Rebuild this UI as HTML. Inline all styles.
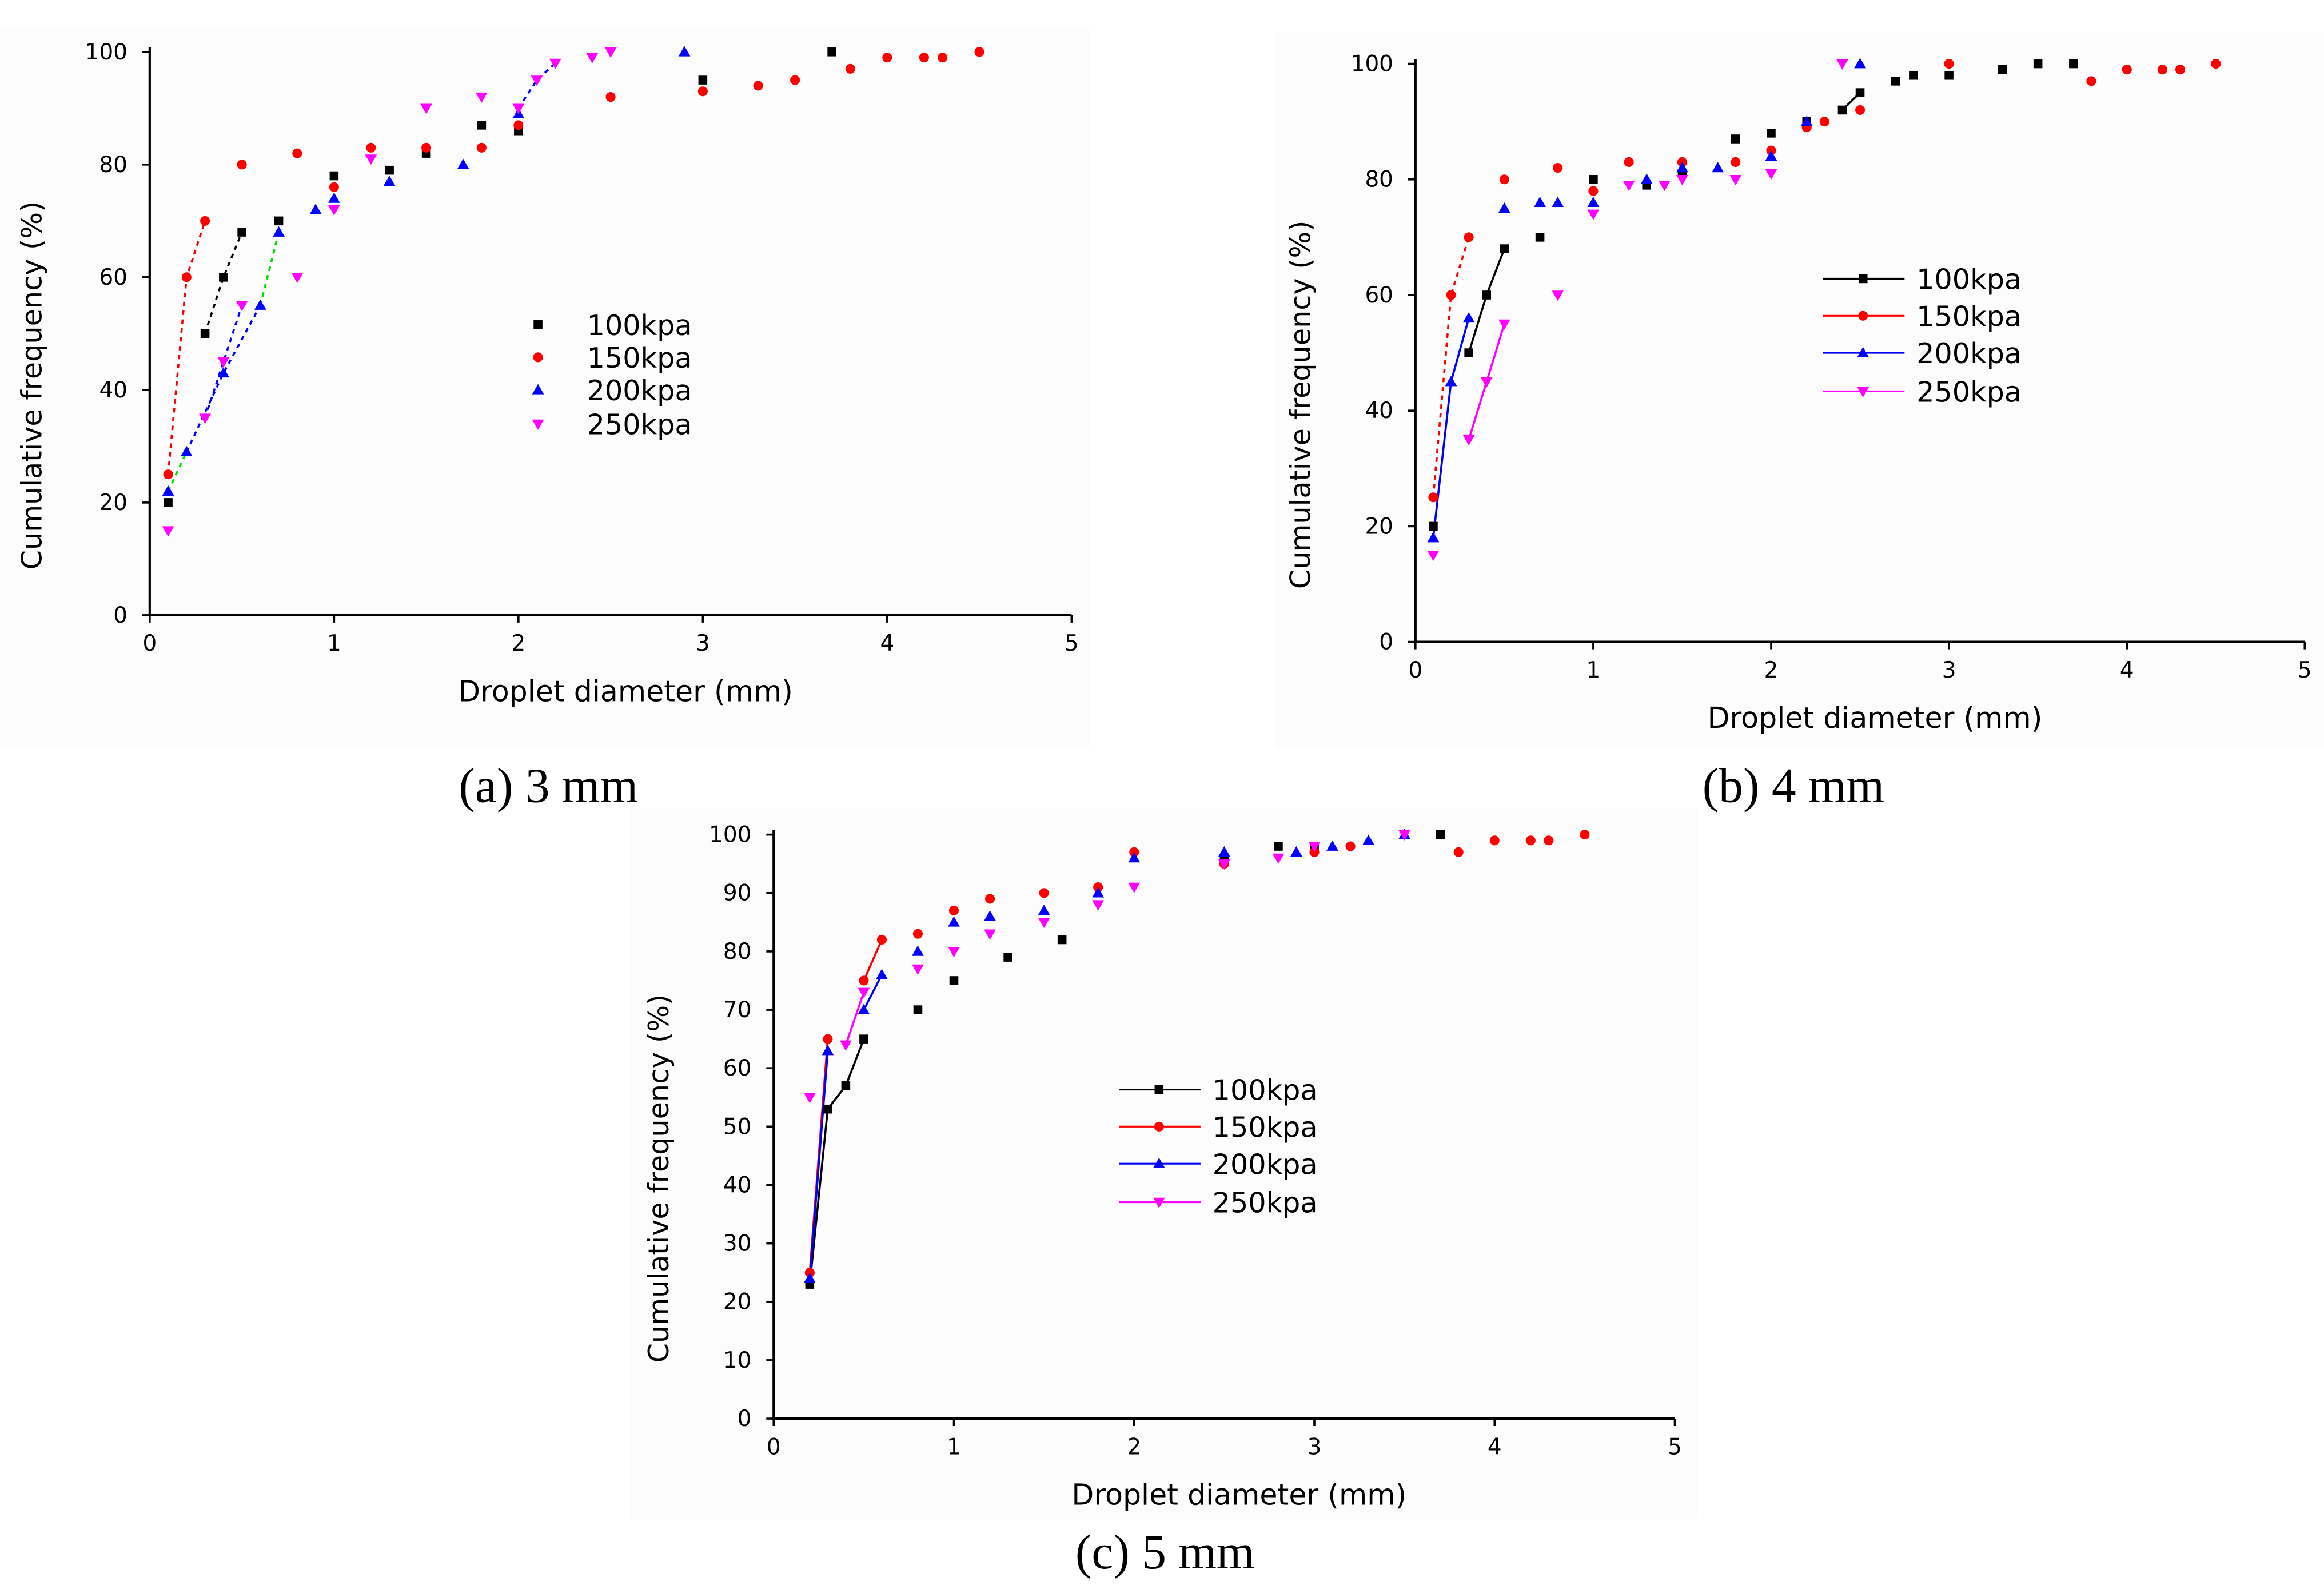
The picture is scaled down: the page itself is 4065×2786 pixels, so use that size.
<!DOCTYPE html>
<html><head><meta charset="utf-8"><style>
html,body{margin:0;padding:0;background:#fff;}
svg{display:block;}
text{font-family:"DejaVu Sans","Liberation Sans",sans-serif;}
.cap{font-family:"Liberation Serif",serif;font-size:33px;}
</style></head><body>
<svg id="root" width="4065" height="2786" viewBox="0 0 1568 1074.6" xmlns="http://www.w3.org/2000/svg">
<rect x="0" y="0" width="1568" height="1075" fill="#fff"/>
<rect x="0" y="18" width="735" height="487" fill="#fcfcfc"/>
<rect x="860" y="22" width="708" height="483" fill="#fcfcfc"/>
<rect x="425" y="545" width="720" height="480" fill="#fcfcfc"/>
<text class="cap" x="370" y="541" text-anchor="middle">(a) 3 mm</text>
<text class="cap" x="1210" y="541" text-anchor="middle">(b) 4 mm</text>
<text class="cap" x="786" y="1058" text-anchor="middle">(c) 5 mm</text>
</svg>
<script>
const NS="http://www.w3.org/2000/svg";
const root=document.getElementById('root');
const seriesNames=["100kpa","150kpa","200kpa","250kpa"];
// Panel a data
const aX100=[0.1,0.3,0.4,0.5,0.7,1,1.3,1.5,1.8,2,3,3.7];
const aY100=[20,50,60,68,70,78,79,82,87,86,95,100];
const aX150=[0.1,0.2,0.3,0.5,0.8,1,1.2,1.5,1.8,2,2.5,3,3.3,3.5,3.8,4,4.2,4.3,4.5];
const aY150=[25,60,70,80,82,76,83,83,83,87,92,93,94,95,97,99,99,99,100];
const aX200=[0.1,0.2,0.4,0.6,0.7,0.9,1,1.3,1.7,2,2.9];
const aY200=[22,29,43,55,68,72,74,77,80,89,100];
const aX250=[0.1,0.3,0.4,0.5,0.8,1,1.2,1.5,1.8,2,2.1,2.2,2.4,2.5];
const aY250=[15,35,45,55,60,72,81,90,92,90,95,98,99,100];
// Panel b data
const bX100=[0.1,0.3,0.4,0.5,0.7,1,1.3,1.5,1.8,2,2.2,2.4,2.5,2.7,2.8,3,3.3,3.5,3.7];
const bY100=[20,50,60,68,70,80,79,81,87,88,90,92,95,97,98,98,99,100,100];
const bX150=[0.1,0.2,0.3,0.5,0.8,1,1.2,1.5,1.8,2,2.2,2.3,2.5,3,3.8,4,4.2,4.3,4.5];
const bY150=[25,60,70,80,82,78,83,83,83,85,89,90,92,100,97,99,99,99,100];
const bX200=[0.1,0.2,0.3,0.5,0.7,0.8,1,1.3,1.5,1.7,2,2.2,2.5];
const bY200=[18,45,56,75,76,76,76,80,82,82,84,90,100];
const bX250=[0.1,0.3,0.4,0.5,0.8,1,1.2,1.4,1.5,1.8,2,2.4];
const bY250=[15,35,45,55,60,74,79,79,80,80,81,100];
// Panel c data
const cX100=[0.2,0.3,0.4,0.5,0.8,1,1.3,1.6,2.5,2.8,3,3.7];
const cY100=[23,53,57,65,70,75,79,82,96,98,98,100];
const cX150=[0.2,0.3,0.5,0.6,0.8,1,1.2,1.5,1.8,2,2.5,3,3.2,3.8,4,4.2,4.3,4.5];
const cY150=[25,65,75,82,83,87,89,90,91,97,95,97,98,97,99,99,99,100];
const cX200=[0.2,0.3,0.5,0.6,0.8,1,1.2,1.5,1.8,2,2.5,2.9,3.1,3.3,3.5];
const cY200=[24,63,70,76,80,85,86,87,90,96,97,97,98,99,100];
const cX250=[0.2,0.4,0.5,0.8,1,1.2,1.5,1.8,2,2.5,2.8,3,3.5];
const cY250=[55,64,73,77,80,83,85,88,91,95,96,98,100];
const xTicks=[0,1,2,3,4,5];
const yTicksAB=[0,20,40,60,80,100];
const yTicksC=[0,10,20,30,40,50,60,70,80,90,100];
const colors=["#000","#f00","#00f","#f0f"];

function el(tag,attrs,parent){const e=document.createElementNS(NS,tag);for(const k in attrs)e.setAttribute(k,attrs[k]);(parent||root).appendChild(e);return e;}
function marker(g,k,x,y){
  let m;
  if(k===0)m=el('rect',{x:x-3,y:y-3,width:6,height:6,fill:colors[0]},g);
  else if(k===1)m=el('circle',{cx:x,cy:y,r:3.3,fill:colors[1]},g);
  else if(k===2)m=el('polygon',{points:`${x},${y-4} ${x+4},${y+3} ${x-4},${y+3}`,fill:colors[2]},g);
  else m=el('polygon',{points:`${x-4},${y-3} ${x+4},${y-3} ${x},${y+4}`,fill:colors[3]},g);
  
  
}
function panel(id,P,xs,ys,segs,yTicks,legend){
  const g=el('g',{});
  
  
  const sx=v=>P.x0+(P.x1-P.x0)*v/5, sy=v=>P.y0-(P.y0-P.y1)*v/100;
  const ax=el('path',{d:`M${P.x0},${P.y1-3}V${P.y0}H${P.x1}`,stroke:'#000','stroke-width':1.6,fill:'none'},g);
  
  
  xTicks.forEach(t=>{el('line',{x1:sx(t),x2:sx(t),y1:P.y0,y2:P.y0+5,stroke:'#000','stroke-width':1.4},g);
    const tx=el('text',{x:sx(t),y:P.y0+24,'font-size':15,'text-anchor':'middle'},g);tx.textContent=t;
    
    });
  yTicks.forEach(t=>{el('line',{x1:P.x0-5,x2:P.x0,y1:sy(t),y2:sy(t),stroke:'#000','stroke-width':1.4},g);
    const tx=el('text',{x:P.x0-15,y:sy(t)+5,'font-size':15,'text-anchor':'end'},g);tx.textContent=t;
    
    });
  const xt=el('text',{x:(P.x0+P.x1)/2+10,y:P.y0+58,'font-size':19.5,'text-anchor':'middle'},g);xt.textContent='Droplet diameter (mm)';
  
  
  const yc=(P.y0+P.y1)/2+35;
  const yt=el('text',{x:P.yl,y:yc,'font-size':19,'text-anchor':'middle',transform:`rotate(-90 ${P.yl} ${yc})`},g);yt.textContent='Cumulative frequency (%)';
  
  
  segs.forEach(s=>{const [k,i,j,c,dash]=s;const pts=[];for(let n=i;n<=j;n++)pts.push(sx(xs[k][n])+','+sy(ys[k][n]));
    const l=el('polyline',{points:pts.join(' '),fill:'none',stroke:c,'stroke-width':1.4,'stroke-dasharray':dash?'3,3':'none'},g);
    
    });
  for(let k=0;k<4;k++)for(let n=0;n<xs[k].length;n++)marker(g,k,sx(xs[k][n]),sy(ys[k][n]));
  legend.ys.forEach((y,k)=>{
    if(legend.line)el('line',{x1:legend.lx0,x2:legend.lx1,y1:y,y2:y,stroke:colors[k],'stroke-width':1.2},g);
    marker(g,k,legend.mx,y);
    const t=el('text',{x:legend.tx,y:y+7,'font-size':19},g);t.textContent=seriesNames[k];
    
    
  });
}
panel('a',{x0:101,x1:723,y0:415,y1:35,yl:28},[aX100,aX150,aX200,aX250],[aY100,aY150,aY200,aY250],
  [[0,1,3,'#000',1],[1,0,2,'#f00',1],[2,1,3,'#00f',1],[3,1,3,'#00f',1],[2,0,1,'#0d0',1],[2,3,4,'#0d0',1],[3,9,11,'#00f',1]],
  yTicksAB,{ys:[219,241,263,286],mx:363,tx:396,line:false});
panel('b',{x0:955,x1:1555,y0:433,y1:43,yl:884},[bX100,bX150,bX200,bX250],[bY100,bY150,bY200,bY250],
  [[0,1,3,'#000',0],[0,11,12,'#000',0],[1,0,2,'#f00',1],[2,0,2,'#00f',0],[3,1,3,'#f0f',0]],
  yTicksAB,{ys:[188,213,238,264],mx:1257,tx:1293,lx0:1230,lx1:1285,line:true});
panel('c',{x0:522,x1:1130,y0:957,y1:563,yl:451},[cX100,cX150,cX200,cX250],[cY100,cY150,cY200,cY250],
  [[0,0,3,'#000',0],[1,0,1,'#f00',0],[1,2,3,'#f00',0],[2,0,1,'#00f',0],[2,2,3,'#00f',0],[3,1,2,'#f0f',0]],
  yTicksC,{ys:[735,760,785,811],mx:782,tx:818,lx0:755,lx1:810,line:true});
</script>
</body></html>
